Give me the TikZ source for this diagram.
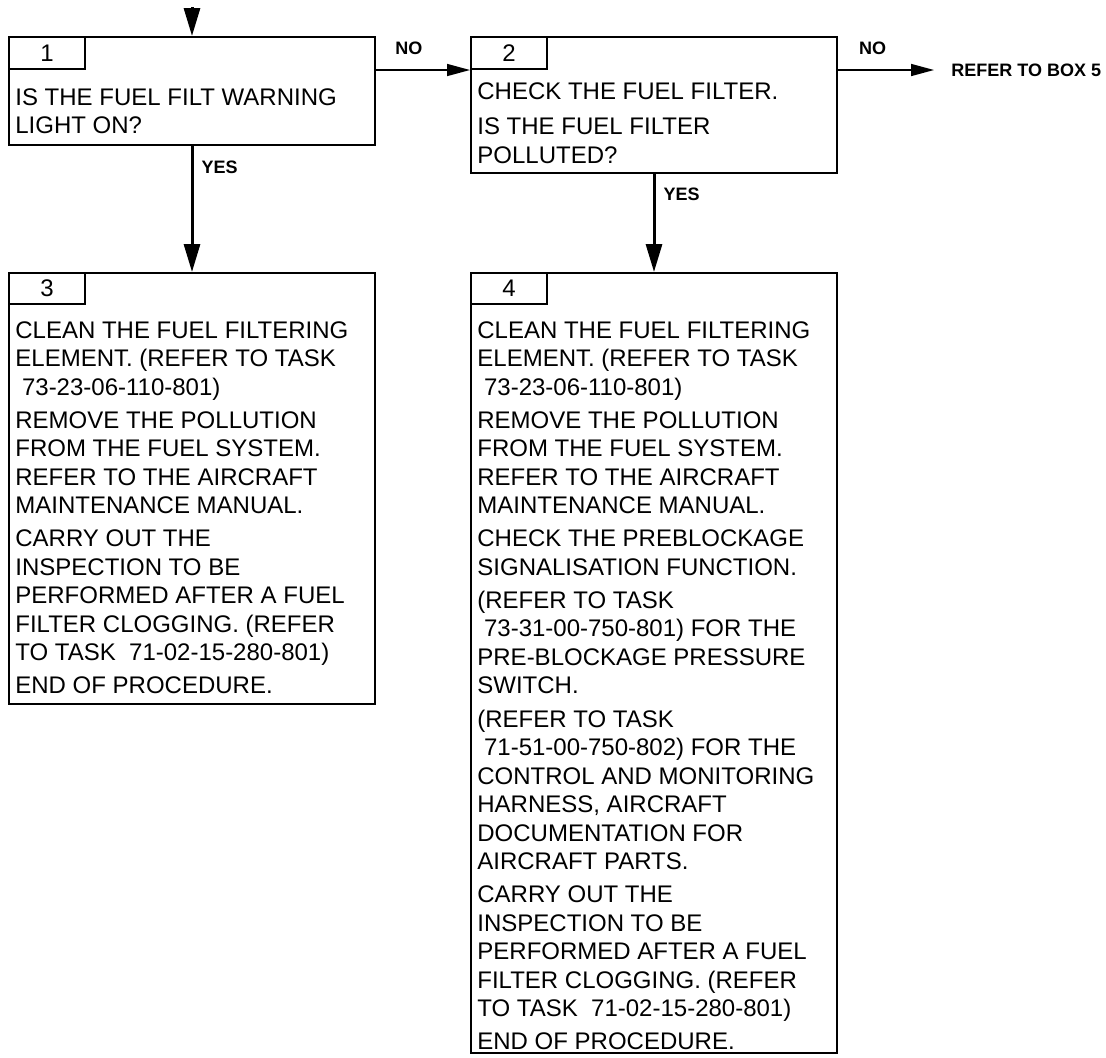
\documentclass[tikz,border=0pt]{standalone}
\usepackage{fontspec}
\setmainfont{Liberation Sans}
\usepackage{tikz}
\usetikzlibrary{
  arrows.meta,
  positioning
}
\tikzset{
  flowbox/.style={
    draw, line width=1pt, minimum width=183pt, inner sep=0pt, anchor=north west
  },
  tabbox/.style={draw, line width=1pt, minimum width=38pt, minimum height=16pt, inner sep=0pt,
    anchor=north west, font=\fontsize{12}{14.25}\selectfont},
  boxtext/.style={align=left, inner sep=0pt, anchor=north west, font=\fontsize{12}{14.25}\selectfont},
  decision/.style={font=\fontsize{9}{10}\selectfont\bfseries, inner sep=0pt},
  yesflow/.style={-{Triangle[length=14pt, width=8pt]}, line width=1.5pt},
  noflow/.style={-{Triangle[length=11.5pt, width=6pt]}, line width=0.75pt}
}

\begin{document}
\begin{tikzpicture}
  \useasboundingbox (0,0) rectangle (553pt,-528.5pt);
  % boxes
  \node[flowbox, minimum height=54pt] (b1) at (4pt,-18pt) {};
  \node[flowbox, minimum height=68pt, right=47pt of b1.north east, anchor=north west] (b2) {};
  \node[flowbox, minimum height=215.5pt, below=63pt of b1.south west, anchor=north west] (b3) {};
  \node[flowbox, minimum height=390pt, below=49pt of b2.south west, anchor=north west] (b4) {};
  \node[tabbox] (n1) at (b1.north west) {1};
  \node[tabbox] (n2) at (b2.north west) {2};
  \node[tabbox, minimum height=15.5pt] (n3) at (b3.north west) {3};
  \node[tabbox, minimum height=15.5pt] (n4) at (b4.north west) {4};
  % texts
  \node[boxtext] (t1) at ([xshift=3.5pt, yshift=-26pt]b1.north west)
    {IS THE FUEL FILT WARNING\\LIGHT ON?};
  \node[boxtext] (t2) at ([xshift=3.5pt, yshift=-23pt]b2.north west)
    {CHECK THE FUEL FILTER.\\[3.5pt]IS THE FUEL FILTER\\POLLUTED?};
  \node[boxtext] (t3) at ([xshift=3.5pt, yshift=-24.5pt]b3.north west)
    {CLEAN THE FUEL FILTERING\\ELEMENT. (REFER TO TASK\\~73-23-06-110-801)\\[2.3pt]
     REMOVE THE POLLUTION\\FROM THE FUEL SYSTEM.\\REFER TO THE AIRCRAFT\\MAINTENANCE MANUAL.\\[2.3pt]
     CARRY OUT THE\\INSPECTION TO BE\\PERFORMED AFTER A FUEL\\FILTER CLOGGING. (REFER\\TO TASK\ \ 71-02-15-280-801)\\[2.3pt]
     END OF PROCEDURE.};
  \node[boxtext] (t4) at ([xshift=3.5pt, yshift=-24.5pt]b4.north west)
    {CLEAN THE FUEL FILTERING\\ELEMENT. (REFER TO TASK\\~73-23-06-110-801)\\[2.3pt]
     REMOVE THE POLLUTION\\FROM THE FUEL SYSTEM.\\REFER TO THE AIRCRAFT\\MAINTENANCE MANUAL.\\[2.3pt]
     CHECK THE PREBLOCKAGE\\SIGNALISATION FUNCTION.\\[2.3pt]
     (REFER TO TASK\\~73-31-00-750-801) FOR THE\\PRE-BLOCKAGE PRESSURE\\SWITCH.\\[2.3pt]
     (REFER TO TASK\\~71-51-00-750-802) FOR THE\\CONTROL AND MONITORING\\HARNESS, AIRCRAFT\\DOCUMENTATION FOR\\AIRCRAFT PARTS.\\[2.3pt]
     CARRY OUT THE\\INSPECTION TO BE\\PERFORMED AFTER A FUEL\\FILTER CLOGGING. (REFER\\TO TASK\ \ 71-02-15-280-801)\\[2.3pt]
     END OF PROCEDURE.};
  \node[decision, below right=17pt and 56.5pt of b2.north east, anchor=west] (box5) {REFER TO BOX 5};
  % arrows
  \coordinate (entry) at ([yshift=14.5pt]b1.north);
  \draw[yesflow] (entry) -- (b1.north);
  \draw[noflow] (b1.east |- n1.south) -- (n2.south west)
    node[decision, pos=0.35, above=7.5pt] (no1) {NO};
  \draw[noflow] (b2.east |- n2.south) -- ([xshift=-8.5pt]box5.west |- n2.south)
    node[decision, pos=0.36, above=7.5pt] (no2) {NO};
  \draw[yesflow] (b1) -- (b3) node[decision, pos=0.17, right=4pt] (yes1) {YES};
  \draw[yesflow] (b2) -- (b4) node[decision, pos=0.21, right=4pt] (yes2) {YES};
\end{tikzpicture}
\end{document}
